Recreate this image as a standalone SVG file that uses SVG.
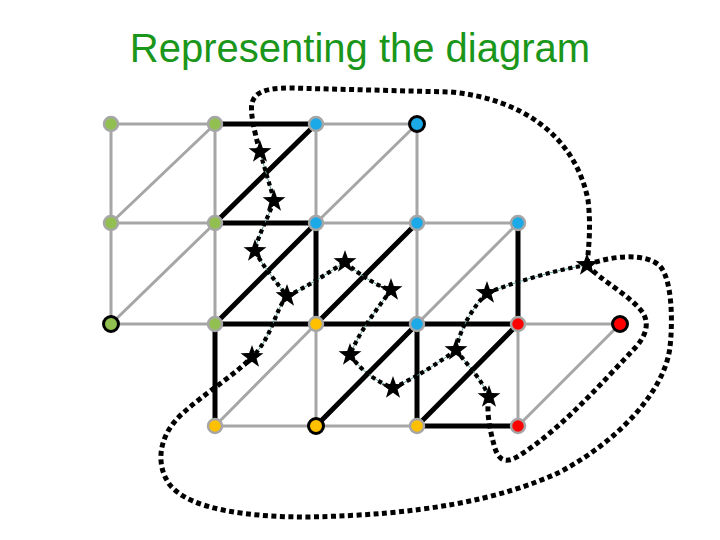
<svg xmlns="http://www.w3.org/2000/svg" xmlns:xlink="http://www.w3.org/1999/xlink" width="720" height="540" viewBox="0 0 720 540">
<style>
.title{font-family:"Liberation Sans",Arial,sans-serif;font-size:40px;fill:#1a961a}
.g{stroke:#a6a6a6;stroke-width:3;stroke-linecap:round;fill:none}
.k{stroke:#000;stroke-width:5;stroke-linecap:round;fill:none}
.dotout{stroke:#000;stroke-width:5;stroke-dasharray:5 3.5;fill:none}
.dotin{stroke:#000;stroke-width:4.2;stroke-dasharray:4.2 3.5;fill:none}
.teal{stroke:#5a9e98;stroke-width:1;fill:none}
.n{stroke:#a6a6a6;stroke-width:2.5}
.nb{stroke:#000;stroke-width:3}
.green{fill:#92c050}.blue{fill:#1ba9e8}.yellow{fill:#ffc000}.red{fill:#ff0000}
</style>
<defs>
<polygon id="star" points="0,-12 2.82,-3.88 11.41,-3.71 4.56,1.48 7.05,9.71 0,4.8 -7.05,9.71 -4.56,1.48 -11.41,-3.71 -2.82,-3.88" fill="#000"/>
</defs>
<rect width="720" height="540" fill="#fff"/>
<text class="title" x="360" y="62" text-anchor="middle">Representing the diagram</text>
<g id="edges">
<line class="g" x1="111" y1="124" x2="215" y2="124"/>
<line class="g" x1="316" y1="124" x2="417" y2="124"/>
<line class="g" x1="111" y1="124" x2="111" y2="223"/>
<line class="g" x1="215" y1="124" x2="215" y2="223"/>
<line class="g" x1="316" y1="124" x2="316" y2="223"/>
<line class="g" x1="417" y1="124" x2="417" y2="223"/>
<line class="g" x1="111" y1="223" x2="215" y2="124"/>
<line class="g" x1="316" y1="223" x2="417" y2="124"/>
<line class="g" x1="111" y1="223" x2="215" y2="223"/>
<line class="g" x1="316" y1="223" x2="417" y2="223"/>
<line class="g" x1="417" y1="223" x2="518" y2="223"/>
<line class="g" x1="111" y1="223" x2="111" y2="324"/>
<line class="g" x1="215" y1="223" x2="215" y2="324"/>
<line class="g" x1="417" y1="223" x2="417" y2="324"/>
<line class="g" x1="111" y1="324" x2="215" y2="223"/>
<line class="g" x1="417" y1="324" x2="518" y2="223"/>
<line class="g" x1="111" y1="324" x2="215" y2="324"/>
<line class="g" x1="518" y1="324" x2="620" y2="324"/>
<line class="g" x1="316" y1="324" x2="316" y2="426"/>
<line class="g" x1="518" y1="324" x2="518" y2="426"/>
<line class="g" x1="215" y1="426" x2="316" y2="324"/>
<line class="g" x1="518" y1="426" x2="620" y2="324"/>
<line class="g" x1="215" y1="426" x2="316" y2="426"/>
<line class="g" x1="316" y1="426" x2="417" y2="426"/>
<line class="k" x1="215" y1="124" x2="316" y2="124"/>
<line class="k" x1="215" y1="223" x2="316" y2="124"/>
<line class="k" x1="215" y1="223" x2="316" y2="223"/>
<line class="k" x1="316" y1="223" x2="316" y2="324"/>
<line class="k" x1="518" y1="223" x2="518" y2="324"/>
<line class="k" x1="215" y1="324" x2="316" y2="223"/>
<line class="k" x1="316" y1="324" x2="417" y2="223"/>
<line class="k" x1="215" y1="324" x2="518" y2="324"/>
<line class="k" x1="215" y1="324" x2="215" y2="426"/>
<line class="k" x1="417" y1="324" x2="417" y2="426"/>
<line class="k" x1="316" y1="426" x2="417" y2="324"/>
<line class="k" x1="417" y1="426" x2="518" y2="324"/>
<line class="k" x1="417" y1="426" x2="518" y2="426"/>
</g>
<g id="dual-connectors">
<g id="inner-teal" class="teal">
<path d="M260,152 C265,170 270,185 274,201"/>
<path d="M274,201 C268,218 258,235 255,251"/>
<path d="M255,251 C262,265 277,283 287,296"/>
<path d="M287,296 C305,288 325,275 345,262"/>
<path d="M287,296 C275,310 272,338 252,357"/>
<path d="M345,262 C360,275 375,285 391,290"/>
<path d="M391,290 C378,308 360,330 350,355"/>
<path d="M350,355 C362,372 378,382 393,388"/>
<path d="M393,388 C415,378 440,362 456,350"/>
<path d="M456,350 C460,327 475,305 487,293"/>
<path d="M456,350 C470,368 482,380 489,397"/>
<path d="M487,293 C515,282 555,270 587,265"/>
</g>
<g id="inner-dots" class="dotin">
<path d="M260,152 C265,170 270,185 274,201"/>
<path d="M274,201 C268,218 258,235 255,251"/>
<path d="M255,251 C262,265 277,283 287,296"/>
<path d="M287,296 C305,288 325,275 345,262"/>
<path d="M287,296 C275,310 272,338 252,357"/>
<path d="M345,262 C360,275 375,285 391,290"/>
<path d="M391,290 C378,308 360,330 350,355"/>
<path d="M350,355 C362,372 378,382 393,388"/>
<path d="M393,388 C415,378 440,362 456,350"/>
<path d="M456,350 C460,327 475,305 487,293"/>
<path d="M456,350 C470,368 482,380 489,397"/>
<path d="M487,293 C515,282 555,270 587,265"/>
</g>
<g id="outer-dots" class="dotout">
<path d="M260,152 C254,130 250,112 252,103 C255,92 266,88 290,88 L450,92 C520,98 575,135 588,200 C591,225 589,245 587,265"/>
<path d="M587,265 C610,256 645,252 660,266 C672,280 673,320 670,347 C665,390 620,440 560,472 C500,500 420,515 307,517 C250,517 190,510 170,485 C155,465 158,435 183,413 C205,393 235,375 252,357"/>
<path d="M587,265 C600,280 630,295 643,313 C650,325 645,337 635,348 C600,385 560,430 520,455 C505,465 498,460 494,445 C490,430 486,412 489,397"/>
</g>
</g>
<g id="stars">
<g id="s1"><use xlink:href="#star" x="260" y="152"/></g>
<g id="s2"><use xlink:href="#star" x="274" y="201"/></g>
<g id="s3"><use xlink:href="#star" x="255" y="251"/></g>
<g id="s4"><use xlink:href="#star" x="287" y="296"/></g>
<g id="s5"><use xlink:href="#star" x="345" y="262"/></g>
<g id="s6"><use xlink:href="#star" x="391" y="290"/></g>
<g id="s7"><use xlink:href="#star" x="350" y="355"/></g>
<g id="s8"><use xlink:href="#star" x="393" y="388"/></g>
<g id="s9"><use xlink:href="#star" x="456" y="350"/></g>
<g id="s10"><use xlink:href="#star" x="487" y="293"/></g>
<g id="s11"><use xlink:href="#star" x="587" y="265"/></g>
<g id="s12"><use xlink:href="#star" x="489" y="397"/></g>
<g id="s13"><use xlink:href="#star" x="252" y="357"/></g>
</g>
<g id="nodes">
<g id="n00"><circle class="n green" cx="111" cy="124" r="7"/></g>
<g id="n01"><circle class="n green" cx="215" cy="124" r="7"/></g>
<g id="n02"><circle class="n blue" cx="316" cy="124" r="7"/></g>
<g id="n03"><circle class="nb blue" cx="417" cy="124" r="7.5"/></g>
<g id="n10"><circle class="n green" cx="111" cy="223" r="7"/></g>
<g id="n11"><circle class="n green" cx="215" cy="223" r="7"/></g>
<g id="n12"><circle class="n blue" cx="316" cy="223" r="7"/></g>
<g id="n13"><circle class="n blue" cx="417" cy="223" r="7"/></g>
<g id="n14"><circle class="n blue" cx="518" cy="223" r="7"/></g>
<g id="n20"><circle class="nb green" cx="111" cy="324" r="7.5"/></g>
<g id="n21"><circle class="n green" cx="215" cy="324" r="7"/></g>
<g id="n22"><circle class="n yellow" cx="316" cy="324" r="7"/></g>
<g id="n23"><circle class="n blue" cx="417" cy="324" r="7"/></g>
<g id="n24"><circle class="n red" cx="518" cy="324" r="7"/></g>
<g id="n25"><circle class="nb red" cx="620" cy="324" r="7.5"/></g>
<g id="n31"><circle class="n yellow" cx="215" cy="426" r="7"/></g>
<g id="n32"><circle class="nb yellow" cx="316" cy="426" r="7.5"/></g>
<g id="n33"><circle class="n yellow" cx="417" cy="426" r="7"/></g>
<g id="n34"><circle class="n red" cx="518" cy="426" r="7"/></g>
</g>
</svg>
